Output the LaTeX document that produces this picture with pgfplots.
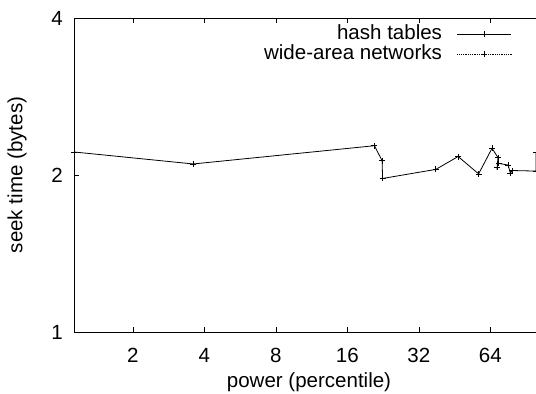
\documentclass[border=0pt]{standalone}
\usepackage{pgfplots}
\pgfplotsset{compat=1.18}
\usepackage{fontspec}
\setmainfont{Liberation Sans}
\begin{document}
\begin{tikzpicture}[font=\fontsize{20.6}{24}\selectfont]
\clip (0bp,0bp) rectangle (536bp,394bp);
\begin{axis}[
  at={(74bp,62bp)}, anchor=south west,
  scale only axis, width=470bp, height=314bp,
  xmode=log, ymode=log, log basis x=2, log basis y=2,
  xmin=1.13, xmax=107.6, ymin=1, ymax=4,
  xtick={2,4,8,16,32,64}, xticklabels={2,4,8,16,32,64},
  ytick={1,2,4}, yticklabels={1,2,4},
  minor xtick={}, minor ytick={},
  /pgf/number format/assume math mode=true,
  tick align=inside, major tick length=5bp,
  tick style={black, line width=0.7bp},
  axis line style={line width=0.9bp},
  xticklabel style={anchor=center, yshift=-23bp},
  yticklabel style={anchor=east, inner sep=0pt, xshift=-11bp},
  xlabel={power (percentile)}, ylabel={seek time (bytes)},
  xlabel style={at={(axis description cs:0.5,-0.16)}, anchor=center},
  ylabel style={at={(axis description cs:-0.121,0.5)}, anchor=center},
  legend plot pos=right,
  legend cell align=right,
  legend style={draw=none, fill=none, at={(axis description cs:0.932,0.980)}, anchor=north east,
    inner sep=0pt, column sep=15bp, row sep=1bp,
    nodes={inner sep=0pt, text height=15bp, text depth=4bp}},
  legend image code/.code={\draw[mark repeat=2,mark phase=2] plot coordinates {(0bp,0bp)(27bp,0bp)(54bp,0bp)};},
]
\addplot[black, line width=0.8bp, mark=+, mark size=3bp, mark options={solid, line width=0.7bp}] coordinates {
(1.13,2.214) (3.59,2.10) (20.8,2.276) (22.4,2.13) (22.5,1.97) (37.7,2.05) (46.8,2.17) (57.1,2.01) (65,2.25) (68.9,2.16) (68.3,2.07) (69.4,2.105) (76.0,2.09) (77.7,2.015) (79.0,2.04) (99.6,2.035) (99.6,2.21)
};
\addlegendentry{hash tables}
\addlegendimage{black, line width=0.8bp, densely dotted, mark=+, mark size=3bp, mark options={solid, line width=0.7bp}}
\addlegendentry{wide-area networks}
\end{axis}
\end{tikzpicture}
\end{document}
